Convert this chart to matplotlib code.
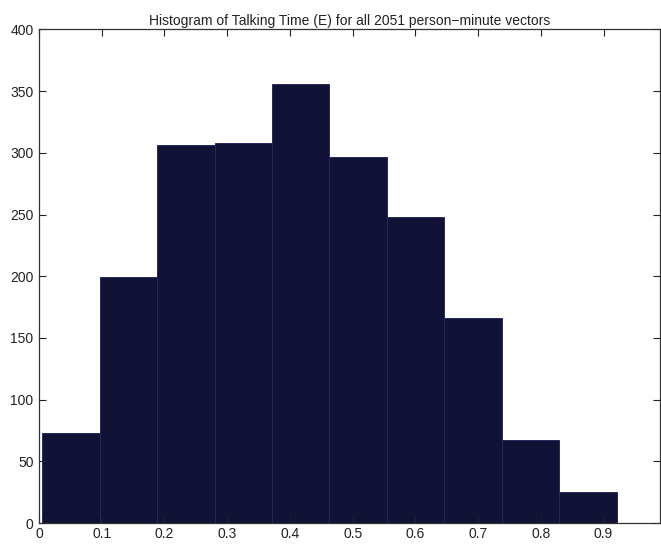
import numpy as np
import matplotlib.pyplot as plt

# histogram counts (10 bins, 2051 vectors in total)
counts = [73, 199, 306, 308, 356, 297, 248, 166, 67, 25]
bin_lo = 0.005
bin_hi = 0.921
xticks = [0, 0.1, 0.2, 0.3, 0.4, 0.5, 0.6, 0.7, 0.8, 0.9]
xticklabels = ["0", "0.1", "0.2", "0.3", "0.4", "0.5", "0.6", "0.7", "0.8", "0.9"]
yticks = [0, 50, 100, 150, 200, 250, 300, 350, 400]

plt.rcParams['font.family'] = ['Liberation Sans', 'DejaVu Sans']

edges = np.linspace(bin_lo, bin_hi, len(counts) + 1)

fig = plt.figure(figsize=(6.61, 5.44), dpi=100)
ax = fig.add_axes([0.059, 0.0386, 0.9395, 0.9072])

ax.bar(edges[:-1], counts, width=np.diff(edges), align='edge',
       color='#111236', edgecolor='#252a60', linewidth=0.7)

ax.set_xlim(0, 0.99)
ax.set_ylim(0, 400)
ax.set_xticks(xticks)
ax.set_xticklabels(xticklabels)
ax.set_yticks(yticks)

ax.tick_params(direction='in', top=True, right=True, length=5, width=0.8,
               labelsize=10, colors='#222222')
ax.tick_params(axis='x', pad=3)
ax.tick_params(axis='y', pad=4)
for s in ax.spines.values():
    s.set_color('#333333')
    s.set_linewidth(0.9)

ax.set_title("Histogram of Talking Time (E) for all 2051 person\u2212minute vectors",
             fontsize=10, pad=3, color='#222222')

fig.savefig("out.png", dpi=100)
